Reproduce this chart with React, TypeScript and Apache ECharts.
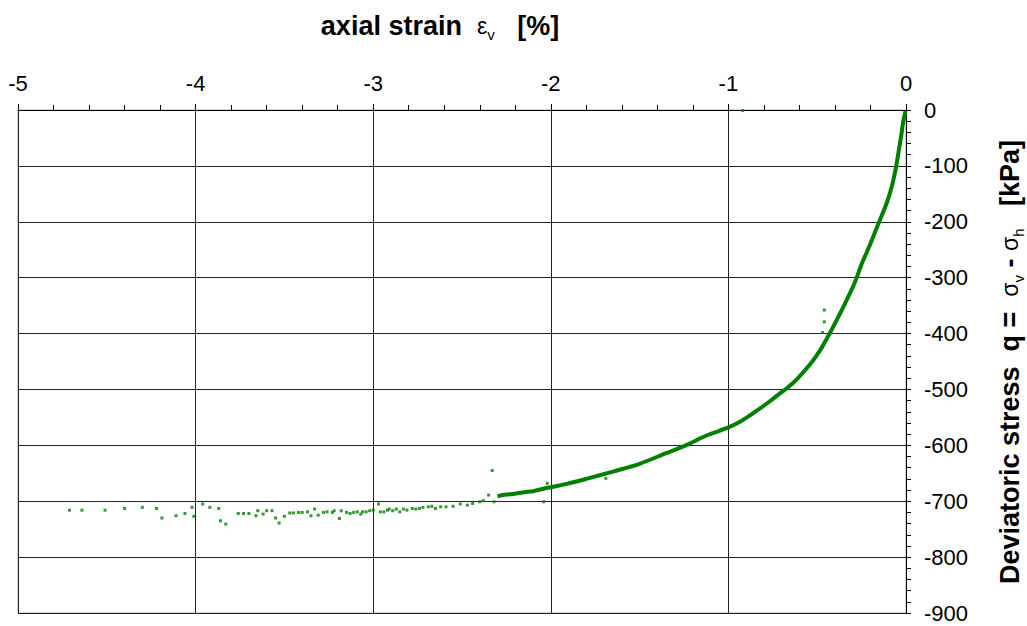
import React, { useEffect, useRef } from "react";
import * as echarts from "echarts";

// axis ranges / ticks
const xRange = [-5, 0];
const yRange = [-900, 0];
const xStep = 1;
const yStep = 100;

// dense part of the measured curve (axial strain %, deviatoric stress kPa)
const mainCurve: [number, number][] = [
  [-2.30, -691], [-2.25, -688], [-2.21, -687], [-2.15, -684], [-2.10, -682],
  [-2.06, -679], [-2.02, -676], [-2.00, -675], [-1.91, -669], [-1.80, -660],
  [-1.65, -647], [-1.50, -633], [-1.35, -614], [-1.24, -600], [-1.12, -582],
  [-1.00, -568], [-0.93, -557], [-0.84, -538], [-0.77, -522], [-0.71, -507],
  [-0.66, -495], [-0.615, -482], [-0.54, -455], [-0.484, -430], [-0.437, -404],
  [-0.381, -370], [-0.334, -340], [-0.29, -310], [-0.25, -276], [-0.20, -239],
  [-0.155, -203], [-0.108, -166], [-0.08, -137], [-0.056, -102], [-0.043, -77],
  [-0.028, -48], [-0.015, -20], [-0.003, -2],
];

// sparse measured points at large strain
const sparsePoints: [number, number][] = [
  [-4.71, -716], [-4.64, -716], [-4.51, -716], [-4.40, -713], [-4.30, -711],
  [-4.22, -713], [-4.19, -730], [-4.11, -726], [-4.06, -722], [-4.02, -711],
  [-4.01, -727], [-3.96, -705], [-3.92, -711], [-3.87, -713], [-3.86, -735],
  [-3.83, -741], [-3.76, -722], [-3.73, -722], [-3.70, -722], [-3.66, -726],
  [-3.65, -717], [-3.62, -723], [-3.60, -717], [-3.57, -717], [-3.55, -730],
  [-3.53, -739], [-3.50, -727], [-3.47, -721], [-3.45, -721], [-3.42, -720],
  [-3.40, -720], [-3.37, -719], [-3.35, -726], [-3.33, -714], [-3.31, -725],
  [-3.28, -720], [-3.26, -719], [-3.23, -720], [-3.22, -717], [-3.19, -731],
  [-3.18, -717], [-3.15, -720], [-3.13, -722], [-3.11, -720], [-3.09, -719],
  [-3.07, -723], [-3.06, -719], [-3.04, -719], [-3.02, -717], [-3.00, -716],
  [-2.97, -705], [-2.96, -719], [-2.94, -719], [-2.92, -716], [-2.91, -714],
  [-2.89, -717], [-2.87, -714], [-2.85, -719], [-2.83, -714], [-2.81, -716],
  [-2.78, -713], [-2.76, -714], [-2.74, -713], [-2.72, -711], [-2.69, -710],
  [-2.67, -709], [-2.65, -713], [-2.62, -710], [-2.59, -710], [-2.55, -709],
  [-2.51, -705], [-2.47, -707], [-2.44, -704], [-2.40, -701], [-2.38, -699],
];

// isolated outlying readings
const outlierPoints: [number, number][] = [
  [-0.92, -1], [-0.46, -358], [-0.46, -379], [-0.47, -398], [-0.47, -425],
  [-2.33, -645], [-2.02, -668], [-2.04, -701], [-2.35, -689], [-2.32, -701],
  [-1.69, -659],
];

const GREEN = "#008000";
const FONT = "'Liberation Sans', Arial, sans-serif";

export default function App() {
  const ref = useRef<HTMLDivElement>(null);
  useEffect(() => {
    const chart = echarts.init(ref.current!, null, { renderer: "svg" });
    const tickLine = { color: "#000", width: 1 };
    const titleRich = {
      b: { fontSize: 27, fontWeight: "bold", fontFamily: FONT, lineHeight: 32, fill: "#000" },
      g: { fontSize: 23, fontFamily: FONT, lineHeight: 32, fill: "#000" },
      s: { fontSize: 15, fontFamily: FONT, lineHeight: 12, verticalAlign: "bottom", fill: "#000" },
    };
    chart.setOption({
      animation: false,
      backgroundColor: "#fff",
      grid: {
        left: 18, right: 121, top: 110, bottom: 13,
        show: true, borderColor: "#aaaaaa", borderWidth: 1,
      },
      xAxis: {
        type: "value", position: "top",
        min: xRange[0], max: xRange[1], interval: xStep,
        axisLine: { onZero: false, lineStyle: tickLine },
        axisTick: { show: true, inside: false, length: 6, lineStyle: tickLine },
        minorTick: { show: true, splitNumber: 5, length: 5, lineStyle: tickLine },
        splitLine: { show: true, lineStyle: { color: "#222", width: 1 } },
        axisLabel: { fontSize: 22, color: "#000", fontFamily: FONT, margin: 16 },
      },
      yAxis: {
        type: "value", position: "right",
        min: yRange[0], max: yRange[1], interval: yStep,
        axisLine: { show: true, onZero: false, lineStyle: tickLine },
        axisTick: { show: true, inside: false, length: 5, lineStyle: tickLine },
        minorTick: { show: true, splitNumber: 5, length: 5, lineStyle: tickLine },
        splitLine: { show: true, lineStyle: { color: "#222", width: 1 } },
        axisLabel: { fontSize: 22, color: "#000", fontFamily: FONT, margin: 18 },
      },
      graphic: [
        {
          type: "text", x: 440, y: 26,
          style: {
            text: "{b|axial strain  }{g|ε}{s|v}{b|   [%]}",
            align: "center", verticalAlign: "middle",
            rich: titleRich,
          },
        },
        {
          type: "text", x: 1010, y: 362, rotation: Math.PI / 2,
          style: {
            text: "{b|Deviatoric stress  q =  }{g|σ}{s|v}{b| - }{g|σ}{s|h}{b|   [kPa]}",
            align: "center", verticalAlign: "middle",
            rich: titleRich,
          },
        },
      ],
      series: [
        {
          type: "line", data: mainCurve, showSymbol: false, smooth: 0.3,
          lineStyle: { color: GREEN, width: 4 }, silent: true,
        },
        {
          type: "scatter", data: sparsePoints, symbol: "rect", symbolSize: 3,
          itemStyle: { color: GREEN }, silent: true,
        },
        {
          type: "scatter", data: outlierPoints, symbol: "rect", symbolSize: 3,
          itemStyle: { color: GREEN }, silent: true,
        },
      ],
    });
    return () => chart.dispose();
  }, []);
  return (
    <div
      ref={ref}
      style={{ position: "fixed", left: 0, top: 0, width: 1027, height: 626, background: "#fff" }}
    />
  );
}
